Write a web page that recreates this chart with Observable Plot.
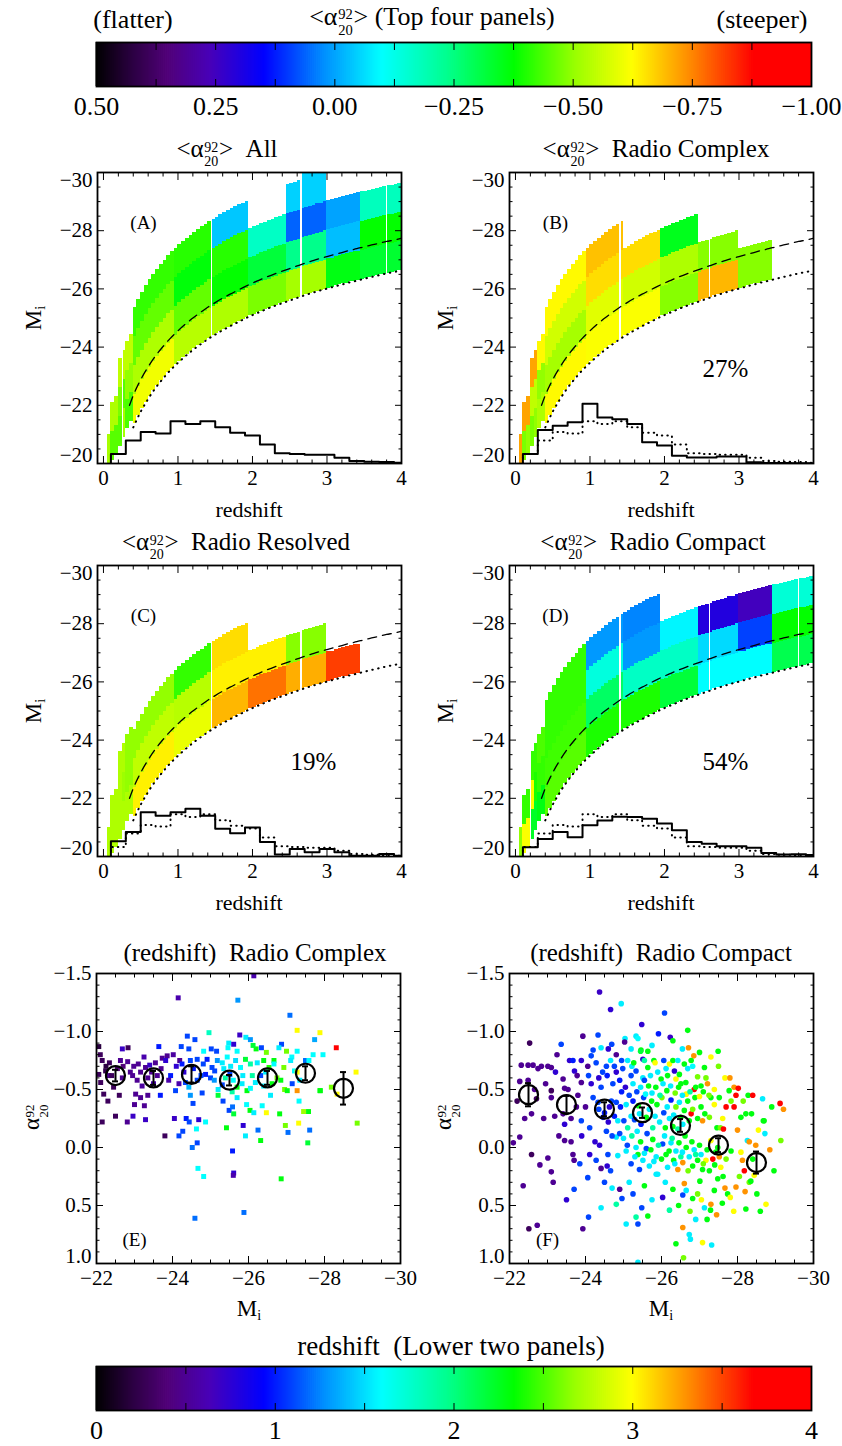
<!DOCTYPE html>
<html><head><meta charset="utf-8">
<script src="https://cdn.jsdelivr.net/npm/d3@7"></script>
<script src="https://cdn.jsdelivr.net/npm/@observablehq/plot@0.6"></script>
<style>
html,body{margin:0;padding:0;background:#fff;}
#fig{position:relative;width:842px;height:1446px;overflow:hidden;font-family:"Liberation Serif","Times New Roman",serif;color:#000;}
.lbl{position:absolute;white-space:nowrap;line-height:1.25;}
.ss{display:inline-flex;flex-direction:column;font-size:0.56em;line-height:1.05;vertical-align:0.38em;margin:0 0.05em;text-align:left;}
.sb{font-size:0.62em;vertical-align:-0.3em;}
</style></head><body><div id="fig"></div>
<script>
// ---------------- colour table (IDL rainbow-like) ----------------
const cmapT = [0, 0.05, 0.10, 0.16, 0.235, 0.32, 0.40, 0.49, 0.585, 0.67, 0.75, 0.83, 0.92, 1];
const cmapColors = ["#000000","#2a0040","#500078","#4800b8","#0000ff","#0090ff","#00ffff","#00ff90","#00ff00","#99ff00","#ffff00","#ff8c00","#ff0000","#ff0000"];
const alphaRange = [0.5, -1.0];   // top colour bar
const zRange = [0, 4];            // bottom colour bar
const alphaTicks = [0.5, 0.25, 0.0, -0.25, -0.5, -0.75, -1.0];
const zTicks = [0, 1, 2, 3, 4];

// ---------------- redshift / Mi grid of the top four panels ----------------
const colEdges = d3.range(1, 81).map(i => i / 20);
const colLim = [-20.00,-20.10,-20.30,-20.60,-20.90,-21.20,-21.45,-21.37,-21.64,-21.89,-22.11,-22.31,-22.50,-22.68,-22.84,-22.99,
 -23.14,-23.27,-23.40,-23.52,-23.63,-23.74,-23.85,-23.95,-24.04,-24.13,-24.22,-24.31,-24.39,-24.47,-24.54,-24.62,-24.69,-24.75,
 -24.82,-24.89,-24.95,-25.01,-25.07,-25.13,-25.18,-25.24,-25.29,-25.34,-25.39,-25.44,-25.49,-25.54,-25.58,-25.63,-25.67,-25.71,
 -25.76,-25.80,-25.84,-25.88,-25.92,-25.95,-25.99,-26.03,-26.06,-26.10,-26.14,-26.17,-26.20,-26.24,-26.27,-26.30,-26.33,-26.36,
 -26.39,-26.42,-26.45,-26.48,-26.51,-26.54,-26.57,-26.60,-26.62];

const binsAll = [
 {z0:0.05,z1:0.10,v:[-0.52]},
 {z0:0.10,z1:0.15,v:[-0.45,-0.53]},
 {z0:0.15,z1:0.20,v:[-0.45,-0.53]},
 {z0:0.20,z1:0.25,v:[-0.45,-0.48,-0.55]},
 {z0:0.25,z1:0.30,v:[-0.52,-0.45,-0.55]},
 {z0:0.30,z1:0.40,v:[-0.44,-0.50,-0.55]},
 {z0:0.40,z1:0.95,v:[-0.61,-0.53,-0.46,-0.42]},
 {z0:0.95,z1:1.45,v:[-0.54,-0.46,-0.37,-0.41]},
 {z0:1.45,z1:1.95,v:[-0.53,-0.38,-0.41,-0.04]},
 {z0:1.95,z1:2.45,v:[-0.48,-0.32,-0.17]},
 {z0:2.45,z1:2.65,v:[-0.52,-0.24,0.06,-0.05]},
 {z0:2.65,z1:3.00,v:[-0.52,-0.24,0.06,-0.05,-0.05]},
 {z0:3.00,z1:3.45,v:[-0.36,-0.03,0.00]},
 {z0:3.45,z1:4.00,v:[-0.33,-0.38,-0.18]}
];
const binsComplex = [
 {z0:0.05,z1:0.10,v:[-0.72]},
 {z0:0.10,z1:0.15,v:[-0.48,-0.72]},
 {z0:0.15,z1:0.20,v:[-0.50,-0.72]},
 {z0:0.20,z1:0.25,v:[-0.48,-0.55,-0.72]},
 {z0:0.25,z1:0.30,v:[-0.50,-0.55,-0.72]},
 {z0:0.30,z1:0.40,v:[-0.53,-0.50,-0.63]},
 {z0:0.40,z1:0.95,v:[-0.63,-0.52,-0.57,-0.63]},
 {z0:0.95,z1:1.45,v:[-0.62,-0.59,-0.66,-0.69]},
 {z0:1.45,z1:1.95,v:[-0.62,-0.57,-0.66]},
 {z0:1.95,z1:2.45,v:[-0.49,-0.53,-0.35]},
 {z0:2.45,z1:3.00,v:[-0.70,-0.49]},
 {z0:3.00,z1:3.45,w:1.35,v:[-0.49]}
];
const binsResolved = [
 {z0:0.05,z1:0.10,v:[-0.53]},
 {z0:0.10,z1:0.15,v:[-0.53,-0.53]},
 {z0:0.15,z1:0.20,v:[-0.53,-0.53]},
 {z0:0.20,z1:0.25,v:[-0.53,-0.53,-0.53]},
 {z0:0.25,z1:0.30,v:[-0.53,-0.51,-0.53]},
 {z0:0.30,z1:0.40,v:[-0.53,-0.50,-0.50]},
 {z0:0.40,z1:0.95,v:[-0.64,-0.55,-0.50]},
 {z0:0.95,z1:1.45,v:[-0.60,-0.54,-0.42]},
 {z0:1.45,z1:1.95,v:[-0.70,-0.64,-0.66]},
 {z0:1.95,z1:2.45,v:[-0.77,-0.64]},
 {z0:2.45,z1:3.00,v:[-0.71,-0.49]},
 {z0:3.00,z1:3.45,v:[-0.82]}
];
const binsCompact = [
 {z0:0.05,z1:0.10,v:[-0.50]},
 {z0:0.10,z1:0.15,v:[-0.62,-0.42]},
 {z0:0.15,z1:0.20,v:[-0.62,-0.42]},
 {z0:0.20,z1:0.25,v:[-0.34,-0.62,-0.42]},
 {z0:0.25,z1:0.30,v:[-0.34,-0.40,-0.42]},
 {z0:0.30,z1:0.40,v:[-0.36,-0.42,-0.44]},
 {z0:0.40,z1:0.95,v:[-0.45,-0.43,-0.42,-0.42]},
 {z0:0.95,z1:1.45,v:[-0.40,-0.28,-0.14,0.01]},
 {z0:1.45,z1:1.95,v:[-0.40,-0.17,0.01,0.03]},
 {z0:1.95,z1:2.45,v:[-0.32,-0.17,-0.09]},
 {z0:2.45,z1:3.00,v:[-0.10,-0.06,0.20]},
 {z0:3.00,z1:3.45,v:[-0.10,0.09,0.25]},
 {z0:3.45,z1:4.00,v:[-0.30,-0.38,-0.15]}
];
const gapsAll = [0.25, 1.45, 2.65, 3.80];
const gapsComplex = [1.40, 2.60];
const gapsResolved = [1.45, 2.65];
const gapsCompact = [0.20, 1.40, 2.60, 3.80];

const histEdges = [0.1,0.3,0.5,0.7,0.9,1.1,1.3,1.5,1.7,1.9,2.1,2.3,2.5,2.7,2.9,3.1,3.3,3.5,3.7,3.9];
const histAll = [-20.33,-20.79,-21.08,-21.03,-21.45,-21.36,-21.45,-21.25,-21.06,-20.96,-20.65,-20.35,-20.33,-20.30,-20.30,-20.20,-20.09,-20.06,-20.05,-20.03];
const histComplex = [-20.33,-21.15,-21.30,-21.42,-22.05,-21.58,-21.52,-21.36,-20.73,-20.62,-20.27,-20.21,-20.21,-20.24,-20.24,-20.04,-20.02,-20.02,-20.01,-20.01];
const histResolved = [-20.52,-20.84,-21.52,-21.40,-21.52,-21.64,-21.40,-20.95,-20.80,-21.00,-20.50,-20.07,-20.26,-20.15,-20.26,-20.15,-20.03,-20.03,-20.09,-20.03];
const histCompact = [-20.32,-20.60,-20.84,-20.66,-21.07,-21.24,-21.37,-21.36,-21.30,-21.13,-20.90,-20.50,-20.44,-20.35,-20.35,-20.30,-20.12,-20.07,-20.08,-20.05];

const limZ = [0.4,0.5,0.6,0.7,0.8,0.9,1.0,1.1,1.2,1.3,1.4,1.5,1.6,1.7,1.8,1.9,2.0,2.1,2.2,2.3,2.4,2.5,2.6,2.7,2.8,2.9,3.0,3.1,3.2,3.3,3.4,3.5,3.6,3.7,3.8,3.9,4.0];
const limM = [-21.24,-21.78,-22.22,-22.60,-22.92,-23.21,-23.46,-23.69,-23.90,-24.09,-24.27,-24.43,-24.58,-24.72,-24.85,-24.98,-25.10,-25.21,-25.32,-25.42,-25.51,-25.60,-25.69,-25.78,-25.86,-25.94,-26.01,-26.08,-26.15,-26.22,-26.28,-26.35,-26.41,-26.47,-26.53,-26.58,-26.64];
const dashZ = [0.35,0.4,0.5,0.6,0.7,0.8,0.9,1.0,1.1,1.2,1.3,1.4,1.5,1.6,1.7,1.8,1.9,2.0,2.1,2.2,2.3,2.4,2.5,2.6,2.7,2.8,2.9,3.0,3.1,3.2,3.3,3.4,3.5,3.6,3.7,3.8,3.9,4.0];
const dashM = [-22.00,-22.34,-22.88,-23.32,-23.70,-24.02,-24.31,-24.56,-24.79,-25.00,-25.19,-25.37,-25.53,-25.68,-25.82,-25.95,-26.08,-26.20,-26.31,-26.42,-26.52,-26.61,-26.70,-26.79,-26.88,-26.96,-27.04,-27.11,-27.18,-27.25,-27.32,-27.38,-27.45,-27.51,-27.57,-27.63,-27.68,-27.74];

// ---------------- lower panels: [Mi, alpha, redshift] ----------------
const complexPts = [
[-26.14,-1.48,0.6],[-24.15,-1.29,0.6],[-25.72,-1.27,1.3],[-27.09,-1.14,1.2],[-27.28,-1.01,3.0],[-27.88,-0.99,3.0],[-24.96,-0.99,1.8],
[-25.77,-0.97,0.7],[-24.39,-0.96,1.1],[-24.59,-0.93,1.1],[-25.93,-0.95,1.55],[-26.05,-0.93,1.3],[-27.74,-0.93,1.35],[-28.31,-0.86,3.7],
[-26.87,-0.89,1.1],[-26.80,-0.86,1.55],[-27.96,-0.80,1.6],[-27.28,-0.83,1.6],[-22.06,-0.87,0.2],[-22.68,-0.85,0.7],[-22.83,-0.86,0.3],
[-23.64,-0.87,1.0],[-24.23,-0.87,1.1],[-24.43,-0.85,1.1],[-24.82,-0.83,1.6],[-25.02,-0.85,1.1],[-25.16,-0.83,1.1],[-25.48,-0.90,1.55],
[-25.61,-0.89,0.75],[-25.46,-0.86,1.6],[-25.70,-0.83,1.6],[-26.20,-0.85,2.3],[-26.34,-0.86,1.1],[-26.47,-0.82,2.6],[-26.12,-0.88,2.2],
[-26.67,-0.75,2.3],[-27.00,-0.83,2.6],[-27.14,-0.78,1.6],[-27.50,-0.75,1.2],[-22.15,-0.75,0.3],[-22.34,-0.73,0.3],[-22.63,-0.75,0.5],
[-22.82,-0.74,0.5],[-22.98,-0.70,0.5],[-23.16,-0.65,0.5],[-23.29,-0.69,0.5],[-23.73,-0.77,0.5],[-23.86,-0.79,0.5],[-24.02,-0.80,0.55],
[-24.19,-0.75,0.5],[-23.55,-0.73,0.5],[-23.40,-0.71,0.7],[-23.82,-0.75,0.75],[-24.25,-0.72,1.0],[-24.47,-0.75,1.1],[-24.65,-0.76,1.1],
[-24.81,-0.72,1.1],[-24.91,-0.76,1.0],[-25.04,-0.69,1.1],[-25.18,-0.75,1.3],[-25.31,-0.73,1.55],[-25.44,-0.78,1.6],[-25.53,-0.70,1.55],
[-25.66,-0.75,1.5],[-25.79,-0.69,1.6],[-25.92,-0.76,2.2],[-26.05,-0.72,1.9],[-26.23,-0.73,1.55],[-26.40,-0.75,2.3],[-26.54,-0.69,2.4],
[-26.67,-0.72,1.6],[-26.93,-0.69,2.6],[-27.11,-0.75,1.55],[-27.21,-0.66,1.6],[-27.59,-0.75,1.6],[-22.06,-0.63,0.3],[-22.11,-0.56,0.3],
[-22.24,-0.66,0.25],[-22.32,-0.62,0.5],[-22.68,-0.60,0.5],[-22.89,-0.65,0.5],[-23.07,-0.58,0.5],[-23.20,-0.53,0.55],[-23.35,-0.60,0.5],
[-23.60,-0.62,0.5],[-23.95,-0.62,1.0],[-24.08,-0.49,1.1],[-24.17,-0.55,0.6],[-24.34,-0.56,1.1],[-24.43,-0.52,1.4],[-24.65,-0.58,1.1],
[-24.87,-0.63,1.0],[-25.00,-0.60,1.1],[-25.11,-0.66,1.1],[-25.20,-0.50,1.55],[-25.31,-0.54,1.1],[-25.39,-0.60,1.9],[-25.51,-0.63,1.1],
[-25.57,-0.48,1.9],[-25.70,-0.52,2.3],[-25.83,-0.55,1.55],[-25.96,-0.49,2.3],[-26.05,-0.51,1.6],[-26.18,-0.56,1.55],[-26.32,-0.62,1.1],
[-26.40,-0.53,1.55],[-26.62,-0.55,2.3],[-26.75,-0.60,2.6],[-26.95,-0.50,2.6],[-27.02,-0.49,2.3],[-27.15,-0.55,1.1],[-27.28,-0.65,3.0],
[-27.70,-0.80,1.6],[-27.89,-0.49,2.3],[-28.18,-0.52,2.6],[-28.33,-0.46,3.0],[-28.83,-0.65,3.0],[-27.28,-0.49,3.3],[-22.19,-0.46,0.3],
[-22.50,-0.27,0.3],[-22.15,-0.22,0.3],[-22.81,-0.22,0.5],[-22.96,-0.27,0.7],[-23.29,-0.24,0.7],[-23.03,-0.46,0.5],[-23.16,-0.43,0.5],
[-23.26,-0.36,0.5],[-23.00,-0.37,0.5],[-23.68,-0.45,1.0],[-23.80,-0.10,0.3],[-24.05,-0.25,0.7],[-24.17,-0.10,1.1],[-24.27,-0.14,1.1],
[-24.36,-0.25,1.0],[-24.44,-0.22,1.1],[-24.47,-0.45,1.3],[-24.54,-0.38,1.1],[-24.63,-0.16,1.6],[-24.69,-0.24,0.75],[-24.78,-0.47,1.1],
[-24.87,-0.22,1.6],[-25.20,-0.45,2.2],[-25.33,-0.40,1.1],[-25.42,-0.17,2.3],[-25.49,-0.32,1.1],[-25.58,-0.35,1.2],[-25.61,-0.29,2.2],
[-25.70,-0.43,1.55],[-25.86,-0.19,0.75],[-25.92,-0.10,1.55],[-25.95,-0.37,1.6],[-26.04,-0.32,2.3],[-26.14,-0.30,1.55],[-26.25,-0.15,1.2],
[-26.32,-0.06,2.3],[-26.36,-0.36,1.6],[-26.47,-0.30,3.0],[-26.58,-0.45,1.55],[-26.82,-0.29,2.3],[-26.97,-0.19,2.6],[-27.04,-0.13,1.2],
[-27.32,-0.21,3.0],[-27.33,-0.40,1.6],[-27.45,-0.31,2.7],[-27.58,-0.31,2.3],[-27.61,-0.15,1.2],[-27.56,-0.04,2.2],[-27.88,-0.49,2.3],
[-28.86,-0.21,2.6],[-24.52,0.00,1.2],[-24.65,-0.04,1.1],[-25.58,0.03,1.0],[-24.67,0.18,1.6],[-24.82,0.25,1.6],[-25.61,0.22,0.75],
[-25.60,0.24,0.6],[-26.86,0.27,2.3],[-25.88,0.56,1.2],[-24.59,0.61,1.2],
[-22.10,-0.80,0.3],[-22.25,-0.70,0.2],[-22.40,-0.62,0.3],[-22.55,-0.68,0.4],[-22.45,-0.52,0.3],[-22.70,-0.70,0.4],[-22.95,-0.62,0.5],
[-23.10,-0.72,0.5],[-23.25,-0.78,0.6],[-23.45,-0.65,0.5],[-23.50,-0.55,0.6],[-23.70,-0.68,0.5],[-23.90,-0.58,0.6],[-24.10,-0.70,0.75],
[-24.30,-0.65,0.75],[-22.30,-0.40,0.3],[-22.60,-0.45,0.3],[-23.35,-0.45,0.5],[-24.55,-0.68,1.0],[-24.75,-0.62,1.1],[-25.10,-0.58,1.3],
[-25.35,-0.68,1.55],[-25.60,-0.58,1.6],[-25.85,-0.62,1.55],[-26.10,-0.62,1.9],[-26.45,-0.65,1.55],[-26.85,-0.58,2.3],[-27.35,-0.58,1.55]
];
const compactPts = [
[-24.37,-1.34,0.7],[-24.94,-1.24,1.55],[-24.66,-1.19,0.75],[-26.08,-1.16,1.1],[-25.48,-1.06,0.75],[-26.69,-1.01,2.3],[-24.33,-0.97,1.1],
[-23.93,-0.96,0.5],[-22.53,-0.90,0.3],[-23.36,-0.89,1.1],[-25.04,-0.94,1.55],[-25.33,-0.96,1.55],[-25.38,-0.94,1.6],[-25.92,-0.98,1.0],
[-26.23,-0.95,0.7],[-26.71,-0.86,3.3],[-26.85,-0.79,3.3],[-27.49,-0.83,2.3],[-25.03,-0.91,0.5],[-24.69,-0.89,1.1],[-24.20,-0.84,1.1],
[-24.41,-0.86,1.55],[-25.46,-0.84,2.3],[-25.64,-0.83,2.3],[-24.66,-0.75,1.55],[-24.81,-0.80,0.5],[-25.20,-0.85,1.55],[-22.31,-0.71,0.5],
[-22.49,-0.71,0.5],[-22.62,-0.71,0.5],[-22.75,-0.68,0.5],[-22.84,-0.70,0.5],[-23.01,-0.70,0.5],[-23.10,-0.69,0.5],[-23.21,-0.65,0.75],
[-22.27,-0.57,0.5],[-22.49,-0.58,0.5],[-22.66,-0.50,0.5],[-23.10,-0.49,0.3],[-23.41,-0.59,0.5],[-23.45,-0.51,0.5],[-23.54,-0.50,0.5],
[-23.58,-0.75,0.75],[-23.67,-0.75,1.0],[-23.71,-0.66,0.75],[-23.78,-0.62,0.5],[-23.89,-0.75,0.75],[-24.06,-0.70,0.5],[-24.15,-0.79,1.1],
[-23.89,-0.56,0.5],[-24.08,-0.62,1.1],[-24.28,-0.73,1.1],[-24.41,-0.52,1.1],[-24.57,-0.62,1.0],[-24.55,-0.70,1.1],[-24.76,-0.70,1.1],
[-24.81,-0.65,0.75],[-24.90,-0.58,1.0],[-24.98,-0.68,1.1],[-25.11,-0.75,1.55],[-25.22,-0.70,1.55],[-25.27,-0.73,2.3],[-25.33,-0.66,1.1],
[-25.45,-0.83,2.2],[-25.51,-0.76,0.75],[-25.51,-0.60,1.55],[-25.55,-0.58,1.1],[-25.64,-0.69,2.3],[-25.71,-0.62,1.55],[-25.80,-0.75,2.3],
[-25.83,-0.73,3.0],[-25.90,-0.65,1.55],[-25.99,-0.59,2.3],[-26.06,-0.75,1.1],[-26.12,-0.68,1.55],[-26.16,-0.62,2.3],[-26.21,-0.72,3.0],
[-26.30,-0.75,2.3],[-26.34,-0.66,0.75],[-26.38,-0.59,3.0],[-26.43,-0.75,1.55],[-26.47,-0.63,2.3],[-26.51,-0.55,2.3],[-26.60,-0.72,2.3],
[-26.69,-0.68,1.55],[-26.78,-0.75,2.3],[-26.82,-0.70,1.6],[-26.86,-0.50,3.7],[-26.95,-0.61,2.6],[-27.04,-0.53,2.3],[-27.13,-0.69,2.3],
[-27.21,-0.55,3.3],[-27.17,-0.60,2.6],[-27.39,-0.50,3.0],[-27.52,-0.43,2.3],[-27.67,-0.60,3.0],[-27.78,-0.49,2.3],[-27.91,-0.52,3.3],
[-28.02,-0.51,3.7],[-28.28,-0.45,2.3],[-28.66,-0.42,1.55],[-29.12,-0.38,3.7],[-29.21,-0.33,3.3],[-22.40,-0.25,0.5],[-22.58,-0.29,0.5],
[-22.71,-0.42,0.3],[-23.10,-0.43,0.5],[-23.19,-0.27,0.5],[-23.41,-0.29,0.5],[-23.45,-0.20,0.75],[-23.62,-0.25,0.5],[-23.76,-0.35,0.5],
[-23.89,-0.23,1.1],[-24.11,-0.17,1.1],[-24.20,-0.43,1.1],[-24.33,-0.39,1.1],[-24.46,-0.26,1.0],[-24.55,-0.14,1.1],[-24.63,-0.35,0.75],
[-24.68,-0.40,1.1],[-24.76,-0.27,1.0],[-24.81,-0.39,1.1],[-24.85,-0.23,1.55],[-24.92,-0.35,1.0],[-25.01,-0.23,1.1],[-25.07,-0.37,1.55],
[-25.11,-0.17,1.9],[-25.20,-0.27,1.55],[-25.25,-0.40,1.0],[-25.29,-0.24,1.1],[-25.36,-0.14,1.55],[-25.39,-0.36,2.3],[-25.42,-0.29,1.55],
[-25.46,-0.20,1.0],[-25.53,-0.43,1.1],[-25.60,-0.26,2.3],[-25.68,-0.33,1.55],[-25.74,-0.40,2.3],[-25.77,-0.17,1.9],[-25.83,-0.27,1.55],
[-25.88,-0.37,2.3],[-25.95,-0.22,1.55],[-26.01,-0.43,2.6],[-26.06,-0.30,1.1],[-26.10,-0.17,2.3],[-26.15,-0.35,1.55],[-26.21,-0.25,1.55],
[-26.25,-0.41,1.0],[-26.30,-0.18,2.3],[-26.32,-0.28,1.55],[-26.38,-0.35,2.6],[-26.43,-0.16,1.9],[-26.47,-0.39,1.55],[-26.51,-0.26,2.3],
[-26.56,-0.20,1.55],[-26.60,-0.32,2.3],[-26.65,-0.46,3.0],[-26.69,-0.40,2.3],[-26.73,-0.23,2.3],[-26.78,-0.29,3.7],[-26.82,-0.33,2.6],
[-26.88,-0.43,2.3],[-26.95,-0.25,2.3],[-27.04,-0.35,2.3],[-27.08,-0.23,3.3],[-27.14,-0.29,2.3],[-27.26,-0.26,2.6],[-27.30,-0.43,2.3],
[-27.39,-0.37,3.0],[-27.46,-0.17,2.3],[-27.55,-0.17,2.6],[-27.61,-0.25,3.0],[-27.70,-0.35,3.7],[-27.83,-0.40,2.6],[-27.91,-0.35,3.7],
[-27.96,-0.45,3.7],[-28.09,-0.26,2.3],[-28.22,-0.29,2.3],[-28.37,-0.29,2.3],[-28.70,-0.23,2.3],[-27.63,-0.16,3.7],[-22.10,-0.04,0.5],
[-22.27,-0.09,0.5],[-22.58,0.06,0.3],[-23.01,0.09,0.5],[-23.45,-0.06,0.5],[-23.62,-0.05,0.5],[-23.67,0.06,0.5],[-23.85,0.14,1.1],
[-23.70,0.11,0.5],[-24.11,0.06,0.75],[-24.28,0.11,1.1],[-24.37,-0.02,0.75],[-24.41,0.18,0.5],[-24.57,0.16,0.75],[-24.59,0.06,1.1],
[-24.66,0.20,1.1],[-24.81,-0.09,1.55],[-24.85,0.07,1.55],[-25.07,0.03,1.55],[-25.20,0.14,1.1],[-25.33,0.00,1.55],[-25.38,0.06,2.3],
[-25.42,0.19,1.1],[-25.51,0.11,1.55],[-25.60,0.01,1.1],[-25.68,0.16,1.55],[-25.77,-0.07,2.3],[-25.86,0.08,1.55],[-25.90,0.23,1.55],
[-26.03,-0.03,1.1],[-26.12,0.06,2.3],[-26.16,0.17,1.55],[-26.25,-0.04,1.55],[-26.32,0.11,2.3],[-26.38,0.03,1.55],[-26.43,0.19,3.3],
[-26.51,0.08,1.9],[-26.56,0.13,3.3],[-26.65,0.00,2.3],[-26.73,0.08,1.55],[-26.82,0.16,2.3],[-26.86,0.02,1.55],[-26.95,0.11,2.3],
[-27.04,0.06,1.55],[-27.08,0.19,2.3],[-27.17,0.11,3.0],[-27.26,0.20,2.3],[-27.35,0.10,3.7],[-27.43,0.04,2.3],[-27.48,0.00,2.3],
[-27.56,0.17,3.0],[-27.83,0.03,2.3],[-28.09,0.04,3.0],[-28.13,0.11,3.3],[-28.26,-0.06,1.55],[-28.31,-0.05,3.3],[-28.48,-0.02,3.3],
[-28.18,0.20,3.7],[-28.44,0.24,3.0],[-28.96,0.20,2.3],[-28.31,0.30,2.6],[-29.14,-0.06,2.6],[-28.72,-0.12,1.55],[-28.68,-0.23,2.3],
[-22.36,0.33,0.5],[-23.10,0.21,0.5],[-23.70,0.36,1.1],[-24.06,0.26,1.1],[-24.41,0.52,1.55],[-24.08,0.60,1.1],[-24.90,0.36,0.5],
[-24.96,0.44,1.1],[-24.81,0.49,1.9],[-25.07,0.66,1.55],[-25.33,0.60,1.9],[-25.38,0.66,1.1],[-25.48,0.52,1.1],[-25.64,0.59,2.3],
[-25.86,0.23,1.55],[-26.03,0.43,0.75],[-26.21,0.54,1.9],[-26.30,0.36,2.3],[-26.56,0.41,1.1],[-26.60,0.31,3.3],[-26.65,0.37,1.55],
[-26.82,0.44,2.3],[-26.95,0.40,2.6],[-27.01,0.29,2.3],[-27.13,0.52,1.55],[-27.29,0.54,2.3],[-27.30,0.49,3.3],[-27.39,0.37,2.3],
[-27.48,0.27,2.3],[-27.67,0.35,3.3],[-27.74,0.40,2.3],[-27.81,0.43,3.0],[-27.96,0.34,3.3],[-28.22,0.53,2.3],[-28.35,0.29,2.3],
[-28.51,0.40,2.3],[-28.75,0.49,3.0],[-26.56,0.69,3.3],[-26.73,0.75,1.55],[-26.76,0.79,1.55],[-26.38,0.83,2.3],[-26.58,0.95,2.6],
[-27.08,0.82,3.0],[-27.32,0.84,1.55],[-25.38,0.99,1.55],[-22.51,0.70,0.3],[-22.73,0.67,0.5],[-23.93,0.70,0.5],
[-24.72,-0.55,1.1],[-24.95,-0.48,1.0],[-25.05,-0.52,0.75],[-25.15,-0.45,1.1],[-25.25,-0.55,1.55],[-25.35,-0.48,1.1],[-25.45,-0.52,1.55],
[-25.58,-0.46,1.6],[-25.66,-0.53,2.3],[-25.75,-0.47,1.55],[-25.85,-0.52,2.3],[-25.96,-0.45,1.9],[-26.04,-0.55,1.55],[-26.14,-0.49,2.3],
[-26.24,-0.53,1.55],[-26.36,-0.47,2.6],[-26.45,-0.52,2.3],[-26.55,-0.45,1.55],[-26.64,-0.56,2.3],[-26.75,-0.48,1.9],[-26.90,-0.52,2.3],
[-27.00,-0.44,3.0],[-27.10,-0.48,2.3],[-27.25,-0.45,2.6],[-24.90,-0.12,1.1],[-25.00,-0.08,1.55],[-25.10,-0.02,1.1],[-25.22,-0.10,1.9],
[-25.30,0.08,1.55],[-25.45,-0.05,2.3],[-25.55,0.05,1.55],[-25.62,-0.12,1.1],[-25.72,0.02,2.3],[-25.80,0.12,1.55],[-25.92,-0.02,1.9],
[-26.00,0.10,2.3],[-26.08,-0.10,1.55],[-26.20,0.03,2.3],[-26.28,-0.08,1.9],[-26.35,0.14,1.55],[-26.46,-0.04,2.3],[-26.55,0.04,1.55],
[-26.62,-0.10,2.3],[-26.70,0.20,2.6],[-26.80,-0.05,2.3],[-26.90,0.06,1.9],[-27.00,-0.02,2.3],[-27.10,0.14,2.6],[-27.20,0.02,2.3],
[-27.30,-0.06,3.0],[-27.40,0.15,2.3],[-27.52,0.08,3.3],[-27.62,0.25,2.3],[-27.70,0.10,2.6],[-24.50,-0.30,1.0],[-24.60,-0.22,0.75],
[-24.70,-0.10,1.1],[-24.35,-0.33,1.1],[-24.25,-0.05,0.75],[-24.00,-0.35,0.5],[-23.90,-0.10,0.75],[-23.80,-0.45,0.5],[-24.15,-0.55,0.75],
[-24.45,-0.65,1.1],[-24.50,0.30,1.1],[-24.70,0.35,1.55],[-25.15,0.30,1.55],[-25.25,0.40,1.1],[-25.55,0.33,2.3],[-25.75,0.45,1.55],
[-26.10,0.30,1.55],[-26.45,0.50,2.3],[-26.75,0.55,2.6],[-26.90,0.62,1.55],[-27.05,0.45,3.0],[-27.20,0.62,2.3],[-27.45,0.58,3.3],
[-27.60,0.48,2.3],[-27.90,0.55,3.0],[-28.05,0.25,2.6],[-28.20,0.38,3.3],[-28.40,0.10,2.3],[-28.55,-0.15,3.0],[-28.60,0.55,2.3],
[-28.85,0.02,3.3],[-28.90,-0.35,2.3],[-28.00,-0.15,3.3],[-28.15,-0.40,2.6],[-28.40,-0.45,3.7],[-27.80,-0.60,3.3],[-27.50,-0.70,2.6],
[-27.30,-0.78,3.0],[-27.00,-0.82,2.3],[-26.55,-0.85,1.55],[-26.30,-0.92,2.3],[-25.75,-0.88,1.55],[-25.55,-0.75,1.9],[-25.20,-0.62,1.1],
[-24.95,-0.75,1.1],[-24.60,-0.85,0.75],[-24.35,-0.60,0.75],[-23.25,-0.80,0.5],[-22.95,-0.55,0.5],[-22.20,-0.40,0.3],[-22.90,-0.25,0.5],
[-23.30,-0.10,0.5],[-23.15,0.30,0.5],[-22.80,0.15,0.5],[-23.50,0.45,0.75]
];
const meanMi = [-22.5,-23.5,-24.5,-25.5,-26.5,-27.5,-28.5];
const complexMean = [-0.62,-0.60,-0.63,-0.58,-0.60,-0.64,-0.51];
const complexErr = [0.05,0.06,0.07,0.045,0.06,0.06,0.14];
const compactMean = [-0.455,-0.37,-0.33,-0.30,-0.19,-0.02,0.13];
const compactErr = [0.10,0.075,0.06,0.045,0.055,0.06,0.095];

// ---------------- helpers ----------------
const FONT = '"Liberation Serif","Times New Roman",serif';
const fig = document.getElementById("fig");
function place(node, left, top) {
  node.style.position = "absolute"; node.style.left = left + "px"; node.style.top = top + "px";
  fig.appendChild(node);
}
function label(html, cx, cy, size, rotate) {
  const d = document.createElement("div");
  d.className = "lbl"; d.innerHTML = html; d.style.fontSize = size + "px";
  d.style.left = cx + "px"; d.style.top = cy + "px";
  d.style.transform = "translate(-50%,-50%)" + (rotate ? ` rotate(${rotate}deg)` : "");
  fig.appendChild(d);
}
const ALPHA = 'α<span class="ss"><span>92</span><span>20</span></span>';
const MEAN_ALPHA = '&lt;' + ALPHA + '&gt;';
const MI = 'M<span class="sb">i</span>';

const alphaColor = {type: "linear", domain: cmapT.map(t => alphaRange[0] + (alphaRange[1] - alphaRange[0]) * t).reverse(),
  range: cmapColors.slice().reverse(), interpolate: "rgb"};
const zColor = {type: "linear", domain: cmapT.map(t => zRange[0] + (zRange[1] - zRange[0]) * t), range: cmapColors, interpolate: "rgb"};

function boxAxes(xMajor, xMinor, yMajor, yMinor, xFmt, yFmt, fs, yTopDy, yBotDy, T = 7, t = 3.5) {
  const hide = {tickFormat: () => "", label: null};
  const yTop = yMajor[0], yBot = yMajor[yMajor.length - 1];
  const yMid = yMajor.slice(1, -1);
  const lab = {anchor: "left", tickSize: 0, tickPadding: 5, tickFormat: yFmt, label: null, fontSize: fs};
  return [
    Plot.axisX({...hide, ticks: xMajor, anchor: "bottom", tickSize: T, dy: -T}),
    Plot.axisX({...hide, ticks: xMinor, anchor: "bottom", tickSize: t, dy: -t}),
    Plot.axisX({...hide, ticks: xMajor, anchor: "top", tickSize: T, dy: T}),
    Plot.axisX({...hide, ticks: xMinor, anchor: "top", tickSize: t, dy: t}),
    Plot.axisY({...hide, ticks: yMajor, anchor: "left", tickSize: T, dx: T}),
    Plot.axisY({...hide, ticks: yMinor, anchor: "left", tickSize: t, dx: t}),
    Plot.axisY({...hide, ticks: yMajor, anchor: "right", tickSize: T, dx: -T}),
    Plot.axisY({...hide, ticks: yMinor, anchor: "right", tickSize: t, dx: -t}),
    Plot.axisX({ticks: xMajor, anchor: "bottom", tickSize: 0, tickPadding: 7, tickFormat: xFmt, label: null, fontSize: fs}),
    Plot.axisY({...lab, ticks: yMid}),
    Plot.axisY({...lab, ticks: [yTop], dy: yTopDy}),
    Plot.axisY({...lab, ticks: [yBot], dy: yBotDy})
  ];
}

// ---------------- top four panels ----------------
const zDomain = [-0.08, 4];
const mDomain = [-20, -30];
const mBase = mDomain[0], zMax = zDomain[1];
const zMajor = [0, 1, 2, 3, 4];
const zMinor = d3.range(1, 20).map(i => i / 5).filter(v => !Number.isInteger(v));
const mMajor = [-30, -28, -26, -24, -22, -20];
const mMinor = d3.range(-60, -39).map(i => i / 2).filter(v => v % 2 !== 0);
const ML = 62, MR = 20, MT = 12, MB = 40;

function stepPts(vals) {
  const p = [{x: histEdges[0], y: mBase}];
  histEdges.forEach((x, i) => p.push({x, y: vals[i]}));
  p.push({x: zMax, y: vals[vals.length - 1]});
  return p;
}
const limPts = limZ.map((z, i) => ({x: z, y: limM[i]}));
const dashPts = dashZ.map((z, i) => ({x: z, y: dashM[i]}));

function heatPanel(p, fx, fy, fw, fh) {
  const cells = [];
  p.bins.forEach(b => {
    const w = b.w || 1;
    for (let j = 0; j < colLim.length; j++) {
      const z0 = colEdges[j];
      if (z0 < b.z0 - 1e-6 || z0 >= b.z1 - 1e-6) continue;
      const gap = p.gaps.some(g => Math.abs(g - z0) < 1e-6);
      b.v.forEach((v, k) => cells.push({x1: z0, x2: colEdges[j + 1], y1: colLim[j] - k * w, y2: colLim[j] - (k + 1) * w, v, gap}));
    }
  });
  const rectOpts = {x1: "x1", x2: "x2", y1: "y1", y2: "y2", fill: "v", clip: true, shapeRendering: "crispEdges"};
  const chart = Plot.plot({
    width: ML + fw + MR, height: MT + fh + MB,
    marginLeft: ML, marginRight: MR, marginTop: MT, marginBottom: MB,
    style: {fontFamily: FONT, fontSize: "21px", background: "transparent", overflow: "visible", color: "black"},
    x: {domain: zDomain}, y: {domain: mDomain}, color: alphaColor,
    marks: [
      Plot.rect(cells.filter(d => !d.gap), rectOpts),
      Plot.rect(cells.filter(d => d.gap), {...rectOpts, insetLeft: 1.4}),
      p.showAll ? Plot.line(stepPts(histAll), {x: "x", y: "y", curve: "step-after", stroke: "black", strokeWidth: 2, strokeDasharray: "0.5,5", strokeLinecap: "round", clip: true}) : null,
      Plot.line(stepPts(p.hist), {x: "x", y: "y", curve: "step-after", stroke: "black", strokeWidth: 2, clip: true}),
      Plot.line(dashPts, {x: "x", y: "y", curve: "monotone-x", stroke: "black", strokeWidth: 1.3, strokeDasharray: "9,6", clip: true}),
      Plot.line(limPts, {x: "x", y: "y", curve: "monotone-x", stroke: "black", strokeWidth: 2, strokeDasharray: "0.5,5.5", strokeLinecap: "round", clip: true}),
      Plot.text([p.tag], {text: d => d, frameAnchor: "top-left", dx: 46, dy: 50, textAnchor: "middle", lineAnchor: "middle", fontSize: 19}),
      p.pct ? Plot.text([p.pct], {text: d => d, frameAnchor: "top-left", dx: 216, dy: 196, textAnchor: "middle", lineAnchor: "middle", fontSize: 25}) : null,
      Plot.frame({stroke: "black", strokeWidth: 1.8}),
      ...boxAxes(zMajor, zMinor, mMajor, mMinor, d3.format("d"), undefined, 21, 8, -8)
    ]
  });
  place(chart, fx - ML, fy - MT);
}

heatPanel({bins: binsAll, hist: histAll, gaps: gapsAll, tag: "(A)", pct: null, showAll: false}, 97, 172, 304, 291);
heatPanel({bins: binsComplex, hist: histComplex, gaps: gapsComplex, tag: "(B)", pct: "27%", showAll: true}, 509, 172, 304, 291);
heatPanel({bins: binsResolved, hist: histResolved, gaps: gapsResolved, tag: "(C)", pct: "19%", showAll: true}, 97, 565, 304, 291);
heatPanel({bins: binsCompact, hist: histCompact, gaps: gapsCompact, tag: "(D)", pct: "54%", showAll: true}, 509, 565, 304, 291);

// ---------------- lower two panels ----------------
const miDomain = [-22, -30];
const aDomain = [1.0, -1.5];
const miMajor = [-22, -24, -26, -28, -30];
const miMinor = d3.range(-60, -43).map(i => i / 2).filter(v => v % 2 !== 0);
const aMajor = [-1.5, -1.0, -0.5, 0.0, 0.5, 1.0];
const aMinor = d3.range(-15, 11).map(i => i / 10).filter(v => Math.abs(v * 2 - Math.round(v * 2)) > 1e-6);

function scatterPanel(pts, means, errs, symbol, tag, fx, fy, fw, fh) {
  const mdata = meanMi.map((m, i) => ({m, a: means[i], e: errs[i]}));
  const chart = Plot.plot({
    width: ML + fw + MR, height: MT + fh + MB,
    marginLeft: ML, marginRight: MR, marginTop: MT, marginBottom: MB,
    style: {fontFamily: FONT, fontSize: "21px", background: "transparent", overflow: "visible", color: "black"},
    x: {domain: miDomain}, y: {domain: aDomain}, color: zColor,
    marks: [
      Plot.dot(pts, {x: d => d[0], y: d => d[1], fill: d => d[2], symbol, r: 2.8, stroke: "none", clip: true}),
      Plot.ruleX(mdata, {x: "m", y1: d => d.a - d.e, y2: d => d.a + d.e, stroke: "black", strokeWidth: 2}),
      Plot.ruleY(mdata, {y: d => d.a - d.e, x1: "m", x2: "m", insetLeft: -3, insetRight: -3, stroke: "black", strokeWidth: 2}),
      Plot.ruleY(mdata, {y: d => d.a + d.e, x1: "m", x2: "m", insetLeft: -3, insetRight: -3, stroke: "black", strokeWidth: 2}),
      Plot.dot(mdata, {x: "m", y: "a", r: 9.5, stroke: "black", strokeWidth: 2.2, fill: "none"}),
      Plot.text([tag], {text: d => d, frameAnchor: "top-left", dx: 38, dy: 266, textAnchor: "middle", lineAnchor: "middle", fontSize: 19}),
      Plot.frame({stroke: "black", strokeWidth: 1.8}),
      ...boxAxes(miMajor, miMinor, aMajor, aMinor, undefined, d3.format(".1f"), 21, 0, -7)
    ]
  });
  place(chart, fx - ML, fy - MT);
}
scatterPanel(complexPts, complexMean, complexErr, "square", "(E)", 96, 973, 304, 290);
scatterPanel(compactPts, compactMean, compactErr, "circle", "(F)", 509, 973, 304, 290);

// ---------------- colour bars ----------------
function colorbar(dom, colorOpt, minor, major, fmt, fx, fy, fw, fh) {
  const n = 360;
  const slices = d3.range(n).map(i => ({a: dom[0] + (dom[1] - dom[0]) * i / n, b: dom[0] + (dom[1] - dom[0]) * (i + 1) / n}));
  const cML = 50, cMR = 50, cMT = 6, cMB = 44;
  const chart = Plot.plot({
    width: cML + fw + cMR, height: cMT + fh + cMB,
    marginLeft: cML, marginRight: cMR, marginTop: cMT, marginBottom: cMB,
    style: {fontFamily: FONT, fontSize: "26px", background: "transparent", overflow: "visible", color: "black"},
    x: {domain: dom}, color: colorOpt,
    marks: [
      Plot.rect(slices, {x1: "a", x2: "b", fill: d => (d.a + d.b) / 2, insetLeft: -0.4, insetRight: -0.4}),
      Plot.frame({stroke: "black", strokeWidth: 1.8}),
      Plot.axisX({ticks: minor, anchor: "bottom", tickSize: 7, dy: -7, tickFormat: () => "", label: null}),
      Plot.axisX({ticks: minor, anchor: "top", tickSize: 7, dy: 7, tickFormat: () => "", label: null}),
      Plot.axisX({ticks: major, anchor: "bottom", tickSize: 0, tickPadding: 10, tickFormat: fmt, label: null, fontSize: 26})
    ]
  });
  place(chart, fx - cML, fy - cMT);
}
colorbar(alphaRange, alphaColor, d3.range(0, 13).map(i => alphaRange[0] - i * 0.125), alphaTicks, d3.format(".2f"), 96, 42, 715, 44);
colorbar(zRange, zColor, d3.range(0, 9).map(i => i * 0.5), zTicks, d3.format("d"), 96, 1366, 715, 44);

// ---------------- titles and axis labels ----------------
label("(flatter)", 133, 20, 26);
label(MEAN_ALPHA + " (Top four panels)", 432, 20, 26);
label("(steeper)", 762, 20, 26);
label("redshift&nbsp; (Lower two panels)", 451, 1347, 27);

label(MEAN_ALPHA + "&nbsp; All", 227, 152, 25);
label(MEAN_ALPHA + "&nbsp; Radio Complex", 656, 152, 25);
label(MEAN_ALPHA + "&nbsp; Radio Resolved", 236, 545, 25);
label(MEAN_ALPHA + "&nbsp; Radio Compact", 653, 545, 25);
label("(redshift)&nbsp; Radio Complex", 255, 953, 25);
label("(redshift)&nbsp; Radio Compact", 661, 953, 25);

[[35, 318], [447, 318], [35, 711], [447, 711]].forEach(([x, y]) => label(MI, x, y, 23, -90));
[[249, 510], [661, 510], [249, 903], [661, 903]].forEach(([x, y]) => label("redshift", x, y, 22));
[[35, 1117], [447, 1117]].forEach(([x, y]) => label(ALPHA, x, y, 23, -90));
[[249, 1310], [661, 1310]].forEach(([x, y]) => label(MI, x, y, 23));
</script></body></html>
